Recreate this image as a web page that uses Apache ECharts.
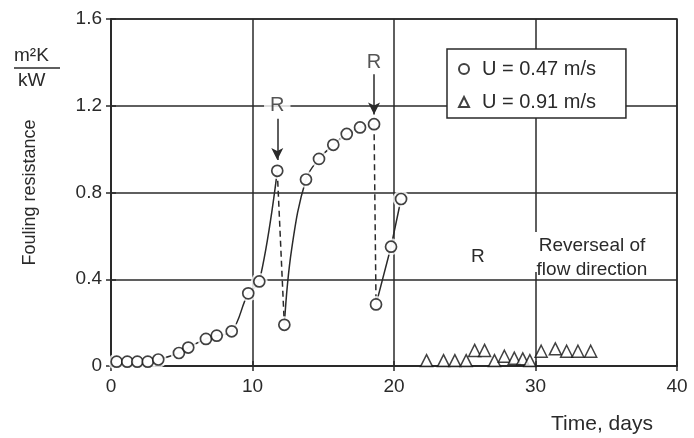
<!DOCTYPE html>
<html>
<head>
<meta charset="utf-8">
<script src="https://cdn.jsdelivr.net/npm/echarts@6/dist/echarts.min.js"></script>
<style>
  html, body { margin: 0; padding: 0; background: #fff; }
  #chart { width: 694px; height: 438px; }
</style>
</head>
<body>
<div id="chart"></div>
<script>
// days, fouling resistance (m2K/kW)
const lowSpeed = [
  [0.4, 0.02], [1.15, 0.02], [1.86, 0.02], [2.6, 0.02], [3.34, 0.03],
  [4.8, 0.06], [5.46, 0.085], [6.71, 0.125], [7.47, 0.14], [8.53, 0.16],
  [9.7, 0.335], [10.48, 0.39], [11.75, 0.9], [12.25, 0.19], [13.78, 0.86],
  [14.7, 0.955], [15.71, 1.02], [16.66, 1.07], [17.6, 1.1], [18.59, 1.115],
  [18.73, 0.284], [19.79, 0.55], [20.5, 0.77]
];
const highSpeed = [
  [22.3, 0.025], [23.5, 0.025], [24.3, 0.025], [25.1, 0.025], [25.7, 0.072],
  [26.4, 0.072], [27.1, 0.025], [27.8, 0.045], [28.5, 0.036], [29.1, 0.033],
  [29.6, 0.025], [30.4, 0.068], [31.4, 0.079], [32.2, 0.068], [33.0, 0.068],
  [33.9, 0.068]
];
// hand drawn trend lines
const curveA = lowSpeed.slice(4, 13);
const curveB = [[12.25, 0.19], [12.77, 0.54], [13.78, 0.86], [14.7, 0.955],
  [15.71, 1.02], [16.66, 1.07], [17.6, 1.1], [18.59, 1.115]];
const dropA = [[11.75, 0.9], [12.25, 0.19]];
const dropB = [[18.59, 1.115], [18.73, 0.284]];
const lineC = lowSpeed.slice(20);
// flow reversal markers: [day, label level, arrow top, arrow tip]
const reversals = [[11.75, 1.2, 1.14, 0.95], [18.59, 1.4, 1.345, 1.16]];

const ink = '#2a2a2a';
const font = 'Liberation Sans, Arial, sans-serif';

let myChart = echarts.init(document.getElementById('chart'));

const axisBase = {
  type: 'value',
  axisLine: { show: true, lineStyle: { color: ink, width: 1.5 } },
  splitLine: { show: false }
};

myChart.setOption({
  animation: false,
  grid: { left: 111, right: 17, top: 19, bottom: 72, show: true, borderColor: ink, borderWidth: 1.5 },
  xAxis: [
    Object.assign({}, axisBase, {
      min: 0, max: 40, interval: 10, position: 'bottom',
      axisTick: { show: true, length: 5, lineStyle: { color: ink, width: 1.5 } },
      axisLabel: { fontSize: 19, color: ink, fontFamily: font, margin: 11 },
      splitLine: { show: true, lineStyle: { color: ink, width: 1.5 } }
    }),
    Object.assign({}, axisBase, {
      min: 0, max: 40, interval: 10, position: 'bottom',
      axisTick: { show: true, inside: true, length: 5, lineStyle: { color: ink, width: 1.5 } },
      axisLabel: { show: false }
    })
  ],
  yAxis: [
    Object.assign({}, axisBase, {
      min: 0, max: 1.6, interval: 0.4, position: 'left',
      axisTick: { show: true, length: 5, lineStyle: { color: ink, width: 1.5 } },
      axisLabel: { fontSize: 19, color: ink, fontFamily: font, margin: 9 },
      splitLine: { show: true, lineStyle: { color: ink, width: 1.5 } },
      name: 'Fouling resistance', nameLocation: 'middle', nameGap: 72, nameRotate: 90,
      nameTextStyle: { fontSize: 18, color: ink, fontFamily: font }
    }),
    Object.assign({}, axisBase, {
      min: 0, max: 1.6, interval: 0.4, position: 'left',
      axisTick: { show: true, inside: true, length: 5, lineStyle: { color: ink, width: 1.5 } },
      axisLabel: { show: false }
    })
  ],
  legend: {
    orient: 'vertical', left: 447, top: 49,
    padding: [10, 30, 6, 11], itemGap: 13, itemWidth: 10, itemHeight: 10,
    backgroundColor: '#fff', borderColor: ink, borderWidth: 1.5, borderRadius: 0,
    textStyle: { fontSize: 20, color: ink, fontFamily: font, lineHeight: 20, padding: [0, 0, 0, 8] },
    data: ['U = 0.47 m/s', 'U = 0.91 m/s']
  },
  graphic: [
    { type: 'text', left: 14, top: 46, style: { text: 'm²K', fontSize: 19, fill: ink, fontFamily: font } },
    { type: 'line', shape: { x1: 14, y1: 68, x2: 60, y2: 68 }, style: { stroke: ink, lineWidth: 1.5 } },
    { type: 'text', left: 18, top: 71, style: { text: 'kW', fontSize: 19, fill: ink, fontFamily: font } },
    { type: 'rect', shape: { x: 468, y: 232, width: 198, height: 40 }, style: { fill: '#fff' }, z: 5 },
    { type: 'text', left: 471, top: 247, z: 6, style: { text: 'R', fontSize: 19, fill: ink, fontFamily: font } },
    { type: 'text', x: 592, y: 246, z: 6, style: { text: 'Reverseal of', fontSize: 19, fill: ink, fontFamily: font, align: 'center', verticalAlign: 'middle' } },
    { type: 'text', x: 592, y: 270, z: 6, style: { text: 'flow direction', fontSize: 19, fill: ink, fontFamily: font, align: 'center', verticalAlign: 'middle' } },
    { type: 'text', x: 602, y: 424, style: { text: 'Time, days', fontSize: 21, fill: ink, fontFamily: font, align: 'center', verticalAlign: 'middle' } }
  ],
  series: [
    { type: 'line', data: curveA, smooth: 0.4, showSymbol: false, z: 2, lineStyle: { color: ink, width: 1.5 } },
    { type: 'line', data: curveB, smooth: 0.4, showSymbol: false, z: 2, lineStyle: { color: ink, width: 1.5 } },
    { type: 'line', data: lineC, showSymbol: false, z: 2, lineStyle: { color: ink, width: 1.5 } },
    { type: 'line', data: dropA, showSymbol: false, z: 2, lineStyle: { color: ink, width: 1.5, type: [6, 4] } },
    { type: 'line', data: dropB, showSymbol: false, z: 2, lineStyle: { color: ink, width: 1.5, type: [6, 4] } },
    // white halo so the lines stop short of the circles
    { type: 'scatter', data: lowSpeed, symbol: 'circle', symbolSize: 17, z: 3, silent: true,
      itemStyle: { color: '#fff', borderWidth: 0 } },
    { name: 'U = 0.47 m/s', type: 'scatter', data: lowSpeed, symbol: 'circle', symbolSize: 11, z: 4,
      itemStyle: { color: '#fff', borderColor: '#111', borderWidth: 1.7 } },
    { name: 'U = 0.91 m/s', type: 'scatter', data: highSpeed, symbol: 'triangle', symbolSize: 12, z: 4,
      itemStyle: { color: '#fff', borderColor: '#111', borderWidth: 1.5 } },
    // reversal labels and arrows
    { type: 'scatter', data: reversals.map(r => [r[0], r[1]]), symbolSize: 0, z: 5,
      label: { show: true, formatter: 'R', position: 'inside', fontSize: 20, color: ink, fontFamily: font,
        backgroundColor: '#fff', padding: [0, 6] },
      markLine: {
        silent: true, symbol: ['none', 'arrow'], symbolSize: [9, 12], label: { show: false },
        lineStyle: { color: ink, width: 1.5, type: 'solid' },
        data: reversals.map(r => [{ coord: [r[0], r[2]] }, { coord: [r[0], r[3]] }])
      }
    }
  ]
});
</script>
</body>
</html>
